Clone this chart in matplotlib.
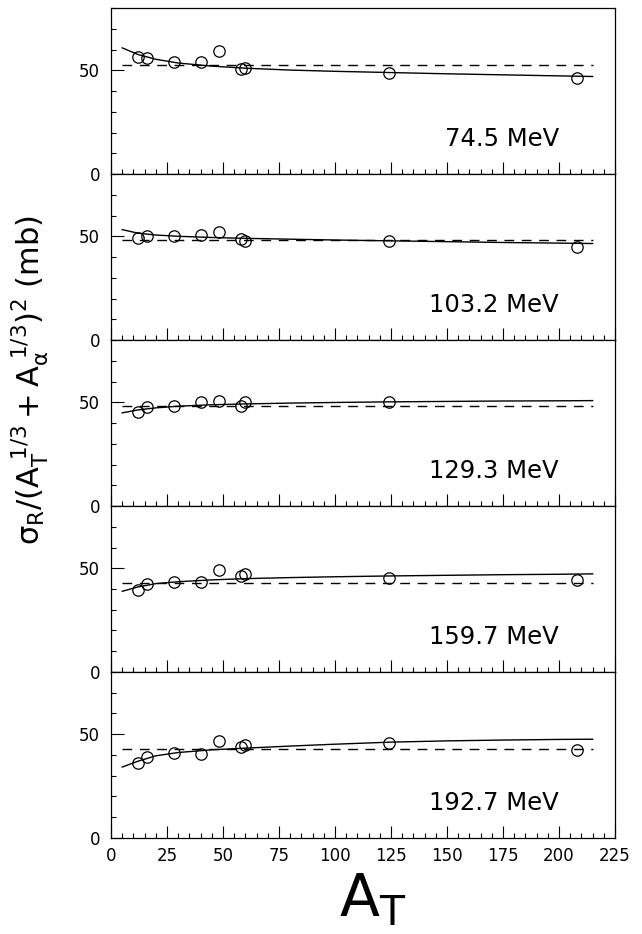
import matplotlib
matplotlib.use("Agg")
import matplotlib.pyplot as plt
from matplotlib.ticker import MultipleLocator, FixedLocator
import numpy as np

# target mass numbers
a_t = [12, 16, 28, 40, 48, 58, 60, 124, 208]

energies = ["74.5 MeV", "103.2 MeV", "129.3 MeV", "159.7 MeV", "192.7 MeV"]

# reduced reaction cross sections (mb), one list per beam energy
sig_745 = [56.3, 56.0, 54.1, 54.2, 59.5, 50.4, 50.9, 48.8, 46.4]
sig_1032 = [49.2, 50.0, 50.3, 50.6, 51.9, 48.9, 47.8, 47.6, 44.8]
sig_1293 = [45.2, 47.9, 48.4, 50.0, 50.6, 48.4, 50.0, 50.0, np.nan]
sig_1597 = [39.7, 42.6, 43.6, 43.6, 49.2, 46.4, 47.1, 45.3, 44.5]
sig_1927 = [36.1, 39.1, 40.9, 40.5, 46.9, 43.9, 44.9, 46.0, 42.5]

# calculated curves (solid)
fit_a = [5, 12, 20, 30, 45, 60, 80, 100, 125, 150, 175, 200, 215]
fit_745 = [60.8, 57.6, 55.3, 53.5, 52.0, 51.0, 50.1, 49.5, 48.9, 48.3, 47.8, 47.3, 47.0]
fit_1032 = [53.2, 51.5, 50.6, 50.0, 49.4, 49.0, 48.6, 48.2, 47.8, 47.4, 47.0, 46.7, 46.5]
fit_1293 = [44.9, 46.3, 47.3, 48.1, 48.8, 49.2, 49.6, 49.9, 50.2, 50.4, 50.6, 50.7, 50.8]
fit_1597 = [38.9, 41.0, 42.6, 43.5, 44.4, 45.0, 45.5, 45.9, 46.3, 46.6, 46.9, 47.1, 47.3]
fit_1927 = [34.2, 37.0, 39.6, 41.2, 42.5, 43.3, 44.3, 45.2, 46.2, 46.8, 47.2, 47.5, 47.6]

# mean values (dashed)
mean_a = [5, 215]
mean_sig = [52.7, 48.4, 48.4, 42.9, 43.1]

data = [sig_745, sig_1032, sig_1293, sig_1597, sig_1927]
fits = [fit_745, fit_1032, fit_1293, fit_1597, fit_1927]

plt.rcParams["mathtext.default"] = "regular"
plt.rcParams["font.family"] = "DejaVu Sans"

fig, axes = plt.subplots(5, 1, figsize=(6.42, 9.34), dpi=100, sharex=True)
fig.subplots_adjust(left=0.173, right=0.958, top=0.9914, bottom=0.1028, hspace=0)

for i, ax in enumerate(axes):
    ax.plot(fit_a, fits[i], color="black", lw=1.0)
    ax.plot(mean_a, [mean_sig[i], mean_sig[i]], color="black", lw=1.0,
            linestyle=(0, (7, 5.5)))
    ax.plot(a_t, data[i], "o", mfc="none", mec="black", ms=8.2, mew=0.9)
    ax.text(200, 17, energies[i], ha="right", va="center", fontsize=17.5)

    ax.set_xlim(0, 225)
    ax.set_ylim(0, 80)
    ax.xaxis.set_major_locator(MultipleLocator(25))
    ax.xaxis.set_minor_locator(MultipleLocator(5))
    ax.yaxis.set_major_locator(FixedLocator([0, 50]))
    ax.yaxis.set_minor_locator(MultipleLocator(10))
    ax.tick_params(which="both", direction="in", top=False, right=False,
                   width=0.8, labelsize=12)
    ax.tick_params(axis="y", which="major", length=9, pad=8)
    ax.tick_params(axis="x", which="major", length=8.6, pad=6.5)
    ax.tick_params(which="minor", length=3.8)
    for sp in ax.spines.values():
        sp.set_linewidth(0.9)

fig.text(0.047, 0.593, r"$\sigma_R/(A_T^{\ 1/3}+A_\alpha^{\ 1/3})^2$ (mb)",
         rotation=90, ha="center", va="center", fontsize=22)
fig.text(0.58, 1 - 916 / 934, r"$A_T$", ha="center", va="baseline", fontsize=42)

fig.savefig("out.png", dpi=100)
